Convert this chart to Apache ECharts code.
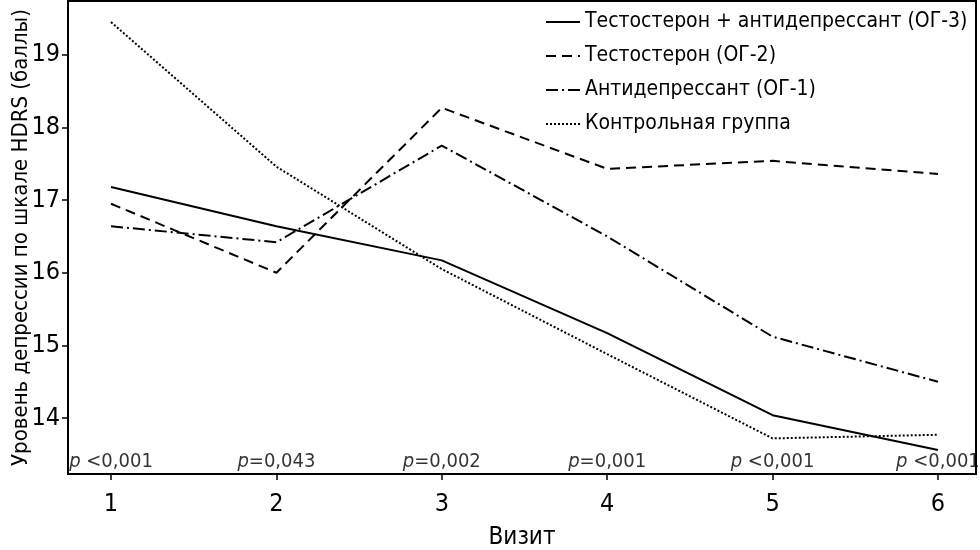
<!DOCTYPE html>
<html><head><meta charset="utf-8">
<script src="https://cdn.jsdelivr.net/npm/echarts@6/dist/echarts.min.js"></script>
<style>html,body{margin:0;padding:0;background:#fff}#c{width:980px;height:550px}</style>
</head><body><div id="c"></div>
<script>
const visits = [1, 2, 3, 4, 5, 6];
const yTicks = [14, 15, 16, 17, 18, 19];
const og3 = [17.18, 16.64, 16.17, 15.17, 14.04, 13.56];
const og2 = [16.95, 16.00, 18.27, 17.43, 17.54, 17.36];
const og1 = [16.64, 16.42, 17.75, 16.50, 15.12, 14.50];
const ctrl = [19.45, 17.46, 16.05, 14.88, 13.72, 13.77];
const pLabels = [' <0,001', '=0,043', '=0,002', '=0,001', ' <0,001', ' <0,001'];
const names = ['Тестостерон + антидепрессант (ОГ-3)', 'Тестостерон (ОГ-2)', 'Антидепрессант (ОГ-1)', 'Контрольная группа'];

const FONT = '"DejaVu Sans Condensed", "Liberation Sans Narrow", sans-serif';
const yMin = 13.23, yMax = 19.74;
const pair = arr => visits.map((v, i) => [v, arr[i]]);
const lineSeries = (name, arr, type, w) => ({
  name, type: 'line', data: pair(arr), symbol: 'none', showSymbol: false, silent: true,
  lineStyle: { color: '#000', width: w, type }, itemStyle: { color: '#000' }, z: 3
});

const chart = echarts.init(document.getElementById('c'), null, { renderer: 'canvas' });
chart.setOption({
  animation: false,
  backgroundColor: '#fff',
  textStyle: { fontFamily: FONT, color: '#000' },
  grid: { left: 68, right: 4, top: 1, bottom: 76, show: true, borderColor: '#000', borderWidth: 2, containLabel: false, outerBoundsMode: 'none' },
  legend: {
    data: names, orient: 'vertical', left: 540, top: 5, itemWidth: 34, itemHeight: 14, itemGap: 10,
    itemStyle: { opacity: 0 },
    textStyle: { fontFamily: FONT, fontSize: 21, lineHeight: 24, color: '#000' },
    selectedMode: false
  },
  xAxis: {
    type: 'value', min: 0.74, max: 6.23,
    name: 'Визит', nameLocation: 'middle', nameGap: 52, nameMoveOverlap: false,
    nameTextStyle: { fontFamily: FONT, fontSize: 24, color: '#000' },
    axisLine: { show: true, lineStyle: { color: '#000', width: 2 } },
    axisTick: { show: true, customValues: visits, length: 6, lineStyle: { color: '#000', width: 1.5 } },
    axisLabel: { customValues: visits, fontFamily: FONT, fontSize: 25, color: '#000', margin: 18 },
    splitLine: { show: false }
  },
  yAxis: {
    type: 'value', min: yMin, max: yMax,
    name: 'Уровень депрессии по шкале HDRS (баллы)', nameLocation: 'middle', nameGap: 36, nameMoveOverlap: false,
    nameTextStyle: { fontFamily: FONT, fontSize: 22, color: '#000' },
    axisLine: { show: true, lineStyle: { color: '#000', width: 2 } },
    axisTick: { show: true, customValues: yTicks, length: 6, lineStyle: { color: '#000', width: 1.5 } },
    axisLabel: { customValues: yTicks, fontFamily: FONT, fontSize: 25, color: '#000', margin: 8 },
    splitLine: { show: false }
  },
  series: [
    lineSeries(names[0], og3, 'solid', 2),
    lineSeries(names[1], og2, [10, 6], 2),
    lineSeries(names[2], og1, [12, 4, 2, 4], 2),
    lineSeries(names[3], ctrl, [2, 2], 2),
    {
      type: 'scatter', silent: true, symbolSize: 0.01, clip: false, z: 4,
      data: visits.map((v, i) => ({ value: [v, yMin], p: pLabels[i] })),
      label: {
        show: true, position: 'top', distance: 2, color: '#000',
        formatter: prm => '{i|p}{n|' + prm.data.p + '}',
        rich: {
          i: { fontFamily: FONT, fontSize: 20, fontStyle: 'italic', color: '#000' },
          n: { fontFamily: FONT, fontSize: 20, color: '#000' }
        }
      }
    }
  ]
});
</script></body></html>
